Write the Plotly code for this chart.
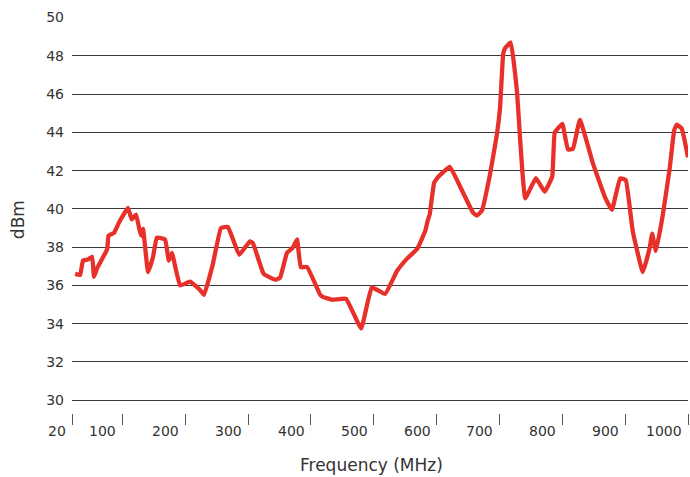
import plotly.graph_objects as go

freq_mhz = [25, 33, 37.5, 45, 52, 55, 60, 76, 78, 84, 87, 95, 109, 115, 122, 127, 130, 133, 141, 149,
            155, 168, 174, 179, 192, 208, 224, 230, 244, 257, 268, 286, 303, 308, 325, 343, 351,
            362, 371, 378, 384, 394, 415, 419, 434, 456, 480, 497, 518, 537, 553, 569, 582, 586,
            589, 596, 602, 621, 637, 658, 664, 672, 685, 696, 701, 706, 709, 718, 728, 733, 741,
            758, 772, 784, 788, 800, 809, 817, 828, 849, 868, 879, 892, 901, 912, 928, 939, 943,
            949, 960, 971, 978, 982, 990, 1000]
level_dbm = [36.6, 36.55, 37.3, 37.35, 37.5, 36.45, 36.9, 37.9, 38.6, 38.7, 38.75, 39.3, 40.05, 39.45, 39.7,
             38.95, 38.6, 38.95, 36.7, 37.5, 38.5, 38.4, 37.3, 37.7, 36.0, 36.2, 35.75, 35.5,
             37.1, 39.0, 39.06, 37.6, 38.3, 38.2, 36.6, 36.3, 36.4, 37.7, 37.96, 38.4, 36.95,
             36.96, 35.5, 35.4, 35.25, 35.3, 33.75, 35.9, 35.55, 36.75, 37.4, 37.9, 38.85, 39.4,
             39.7, 41.35, 41.65, 42.2, 41.2, 39.8, 39.65, 39.9, 41.8, 43.9, 45.3, 48.1, 48.4,
             48.7, 46.1, 43.6, 40.55, 41.6, 40.9, 41.7, 43.98, 44.45, 43.1, 43.15, 44.65, 42.35,
             40.6, 39.95, 41.6, 41.5, 38.85, 36.7, 37.96, 38.7, 37.8, 39.7, 42.15, 44.1, 44.4,
             44.2, 42.7]

x_ticks = [20, 100, 200, 300, 400, 500, 600, 700, 800, 900, 1000]
y_ticks = [30, 32, 34, 36, 38, 40, 42, 44, 46, 48, 50]

font_family = "DejaVu Sans"
text_color = "#333333"

fig = go.Figure()
fig.add_trace(go.Scatter(
    x=freq_mhz, y=level_dbm, mode="lines",
    line=dict(color="#e8302a", width=4.3, shape="spline", smoothing=0.3),
    hoverinfo="skip", showlegend=False,
))

annotations = [
    dict(text=str(v), xref="x", yref="paper", x=v, y=0, yshift=-18,
         xanchor="right", yanchor="middle", xshift=-4, showarrow=False,
         font=dict(family=font_family, size=14, color=text_color))
    for v in x_ticks
]
annotations += [
    dict(text="Frequency (MHz)", xref="paper", yref="paper", x=0.487, y=0, yshift=-52,
         xanchor="center", yanchor="middle", showarrow=False,
         font=dict(family=font_family, size=17, color=text_color)),
    dict(text="dBm", xref="paper", yref="paper", x=0, xshift=-54, y=0.487,
         xanchor="center", yanchor="middle", showarrow=False, textangle=-90,
         font=dict(family=font_family, size=17, color=text_color)),
]

fig.update_layout(
    width=690, height=477,
    margin=dict(l=72, r=2, t=17, b=64),
    paper_bgcolor="white", plot_bgcolor="white",
    font=dict(family=font_family, size=14, color=text_color),
    xaxis=dict(
        range=[20, 1000], tickvals=x_ticks,
        showgrid=False, zeroline=False, showline=False,
        ticks="outside", ticklen=11, tickwidth=1, tickcolor="#555555",
        showticklabels=False, automargin=False,
    ),
    yaxis=dict(
        range=[29.33, 50.03], tickvals=y_ticks,
        showgrid=True, gridcolor="#3a3a3a", gridwidth=1,
        zeroline=False, showline=False, ticks="",
        ticklabelstandoff=7, automargin=False,
        tickfont=dict(family=font_family, size=14, color=text_color),
    ),
    annotations=annotations,
)

fig.write_html(
    "out.html",
    config={"displayModeBar": False, "staticPlot": True},
    post_script="document.body.style.margin='0';document.body.style.overflow='hidden';",
)
